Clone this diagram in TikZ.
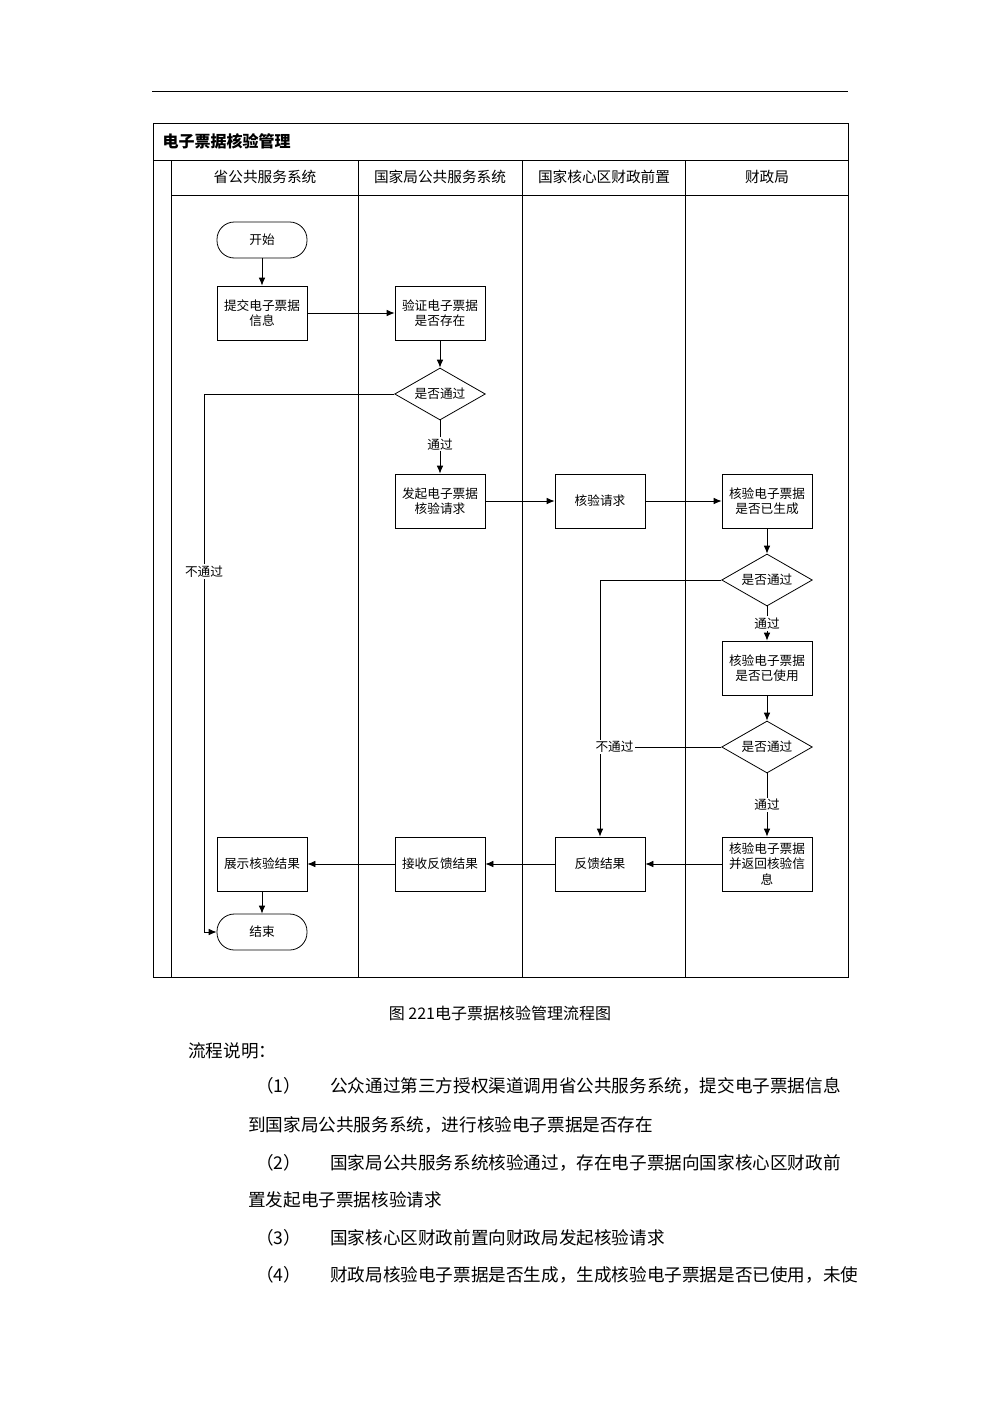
\documentclass[tikz,border=0pt]{standalone}
\usepackage{fontspec}
\newfontfamily\cjk{Noto Sans CJK SC}
\usetikzlibrary{shapes.geometric,arrows.meta}
\tikzset{
 every node/.style={font=\cjk\fontsize{9.5}{11.5}\selectfont},
 box/.style={draw,semithick,minimum width=67.5pt,minimum height=40.5pt,align=center,inner sep=1pt},
 term/.style={draw,semithick,rounded corners=13pt,minimum width=67.5pt,minimum height=27pt},
 dia/.style={draw,semithick,diamond,aspect=1.75,minimum width=68pt,minimum height=39pt,inner sep=0pt},
 arr/.style={semithick,-{Latex[length=6pt,width=5pt]}},
 lane/.style={semithick},
 body/.style={anchor=west,font=\cjk\fontsize{13.2}{14}\selectfont,inner sep=0pt}
}
\begin{document}
\begin{tikzpicture}[x=0.75pt,y=-0.75pt]
\useasboundingbox (0,0) rectangle (1000,1415);
\draw (152,91) -- (848,91);
\draw[lane] (153,123) rectangle (848,977);
\draw[lane] (153,160) -- (848,160);
\draw[lane] (171,195) -- (848,195);
\foreach \x in {171,358,522,685} \draw[lane] (\x,160) -- (\x,977);
\node[anchor=west,font=\cjk\bfseries\fontsize{12}{14}\selectfont] (title) at (158,141) {电子票据核验管理};
\node[font=\cjk\fontsize{11}{13}\selectfont] (h1) at (265,177) {省公共服务系统};
\node[font=\cjk\fontsize{11}{13}\selectfont] (h2) at (440,177) {国家局公共服务系统};
\node[font=\cjk\fontsize{11}{13}\selectfont] (h3) at (604,177) {国家核心区财政前置};
\node[font=\cjk\fontsize{11}{13}\selectfont] (h4) at (767,177) {财政局};

\node[term] (start) at (262,240) {开始};
\node[box] (submit) at (262,313) {提交电子票据\\信息};
\node[box] (verify) at (440,313) {验证电子票据\\是否存在};
\node[dia] (d1) at (440,394) {是否通过};
\node[box] (init) at (440,501) {发起电子票据\\核验请求};
\node[box] (req) at (600,501) {核验请求};
\node[box] (chk1) at (767,501) {核验电子票据\\是否已生成};
\node[dia] (d2) at (767,580) {是否通过};
\node[box] (chk2) at (767,668) {核验电子票据\\是否已使用};
\node[dia] (d3) at (767,747) {是否通过};
\node[box] (ret) at (767,864) {核验电子票据\\并返回核验信\\息};
\node[box] (fb) at (600,864) {反馈结果};
\node[box] (recv) at (440,864) {接收反馈结果};
\node[box] (show) at (262,864) {展示核验结果};
\node[term] (end) at (262,932) {结束};
\coordinate (c1) at (204,394);
\coordinate (c2) at (204,932);
\coordinate (c3) at (600,580);
\coordinate (c4) at (600,747);

\draw[arr] (start) -- (submit);
\draw[arr] (submit) -- (verify);
\draw[arr] (verify) -- (d1);
\draw[arr] (d1) -- node[fill=white,inner sep=1pt,pos=0.45]{通过} (init);
\draw[arr] (d1.west) -- (c1) -- node[fill=white,inner sep=1pt,pos=0.33]{不通过} (c2) -- (end.west);
\draw[arr] (init) -- (req);
\draw[arr] (req) -- (chk1);
\draw[arr] (chk1) -- (d2);
\draw[arr] (d2) -- node[fill=white,inner sep=1pt]{通过} (chk2);
\draw[arr] (chk2) -- (d3);
\draw[arr] (d2.west) -- (c3) -- (fb.north);
\draw[semithick] (d3.west) -- node[fill=white,inner sep=1pt,pos=0.88]{不通过} (c4);
\draw[arr] (d3) -- node[fill=white,inner sep=1pt]{通过} (ret);
\draw[arr] (ret) -- (fb);
\draw[arr] (fb) -- (recv);
\draw[arr] (recv) -- (show);
\draw[arr] (show) -- (end);

\node[font=\cjk\fontsize{12}{14}\selectfont] (cap) at (500,1013) {图 221电子票据核验管理流程图};
\node[body] (t0) at (188,1051) {流程说明：};
\node[body] (n1) at (256,1086) {（1）};
\node[body] (p1) at (330,1086) {公众通过第三方授权渠道调用省公共服务系统，提交电子票据信息};
\node[body] (p1b) at (248,1125) {到国家局公共服务系统，进行核验电子票据是否存在};
\node[body] (n2) at (256,1163) {（2）};
\node[body] (p2) at (330,1163) {国家局公共服务系统核验通过，存在电子票据向国家核心区财政前};
\node[body] (p2b) at (248,1200) {置发起电子票据核验请求};
\node[body] (n3) at (256,1238) {（3）};
\node[body] (p3) at (330,1238) {国家核心区财政前置向财政局发起核验请求};
\node[body] (n4) at (256,1275) {（4）};
\node[body] (p4) at (330,1275) {财政局核验电子票据是否生成，生成核验电子票据是否已使用，未使};
\end{tikzpicture}
\end{document}
